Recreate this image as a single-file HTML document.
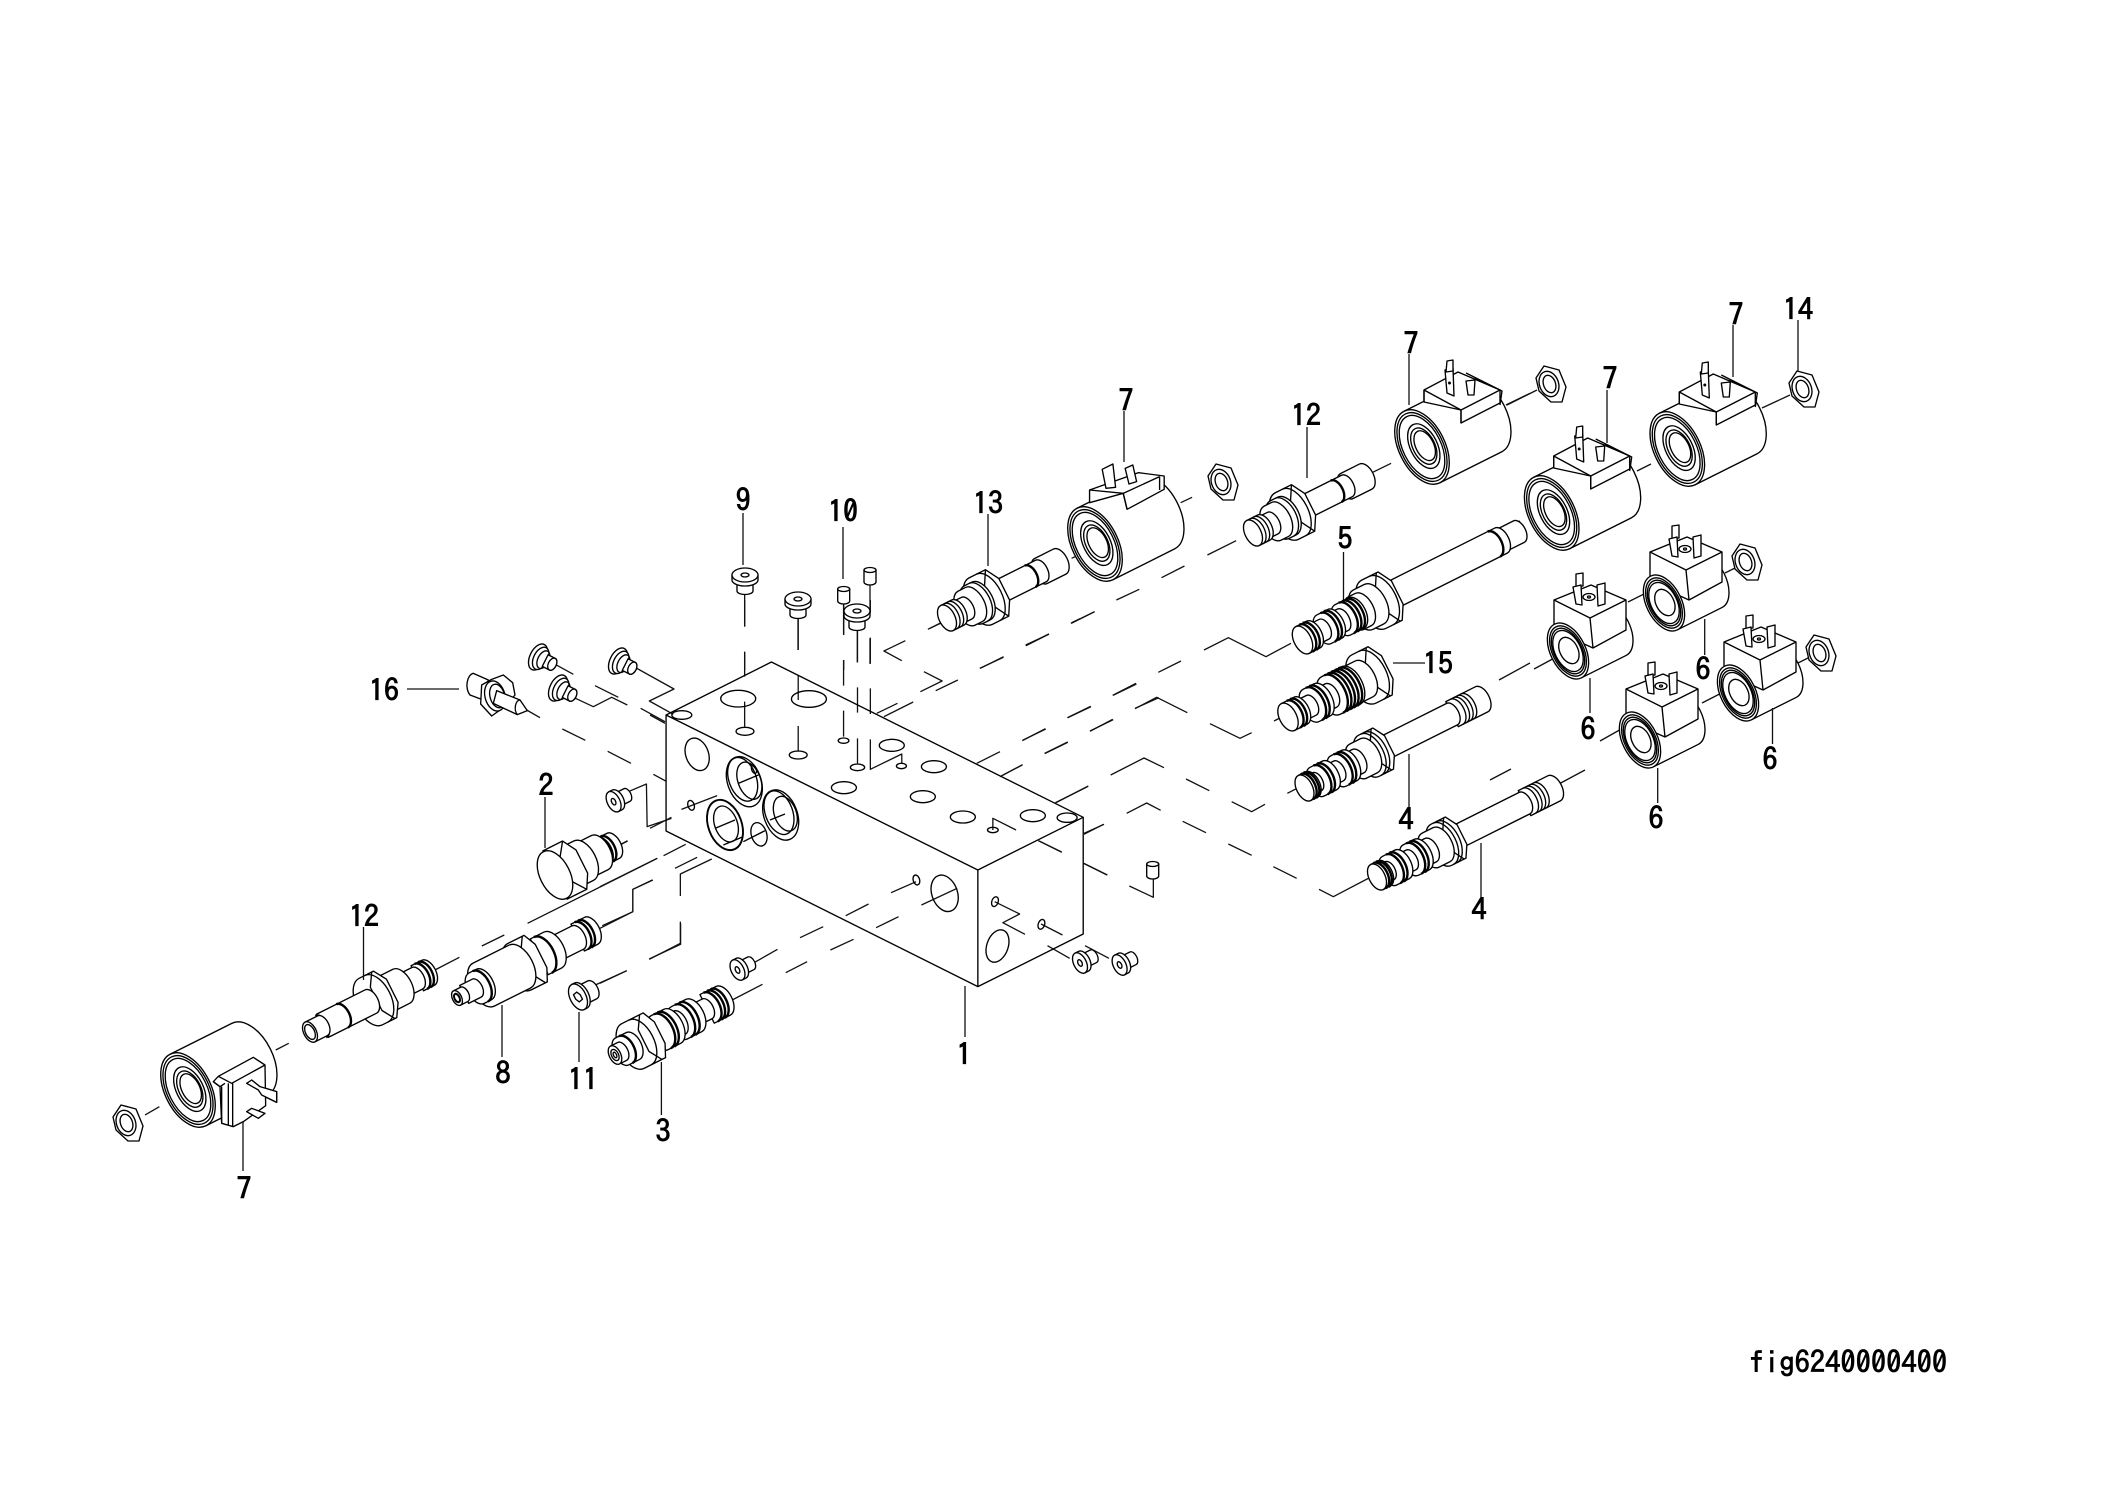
<!DOCTYPE html>
<html><head><meta charset="utf-8"><title>fig6240000400</title>
<style>
html,body{margin:0;padding:0;background:#fff}
svg{display:block}
svg *{vector-effect:non-scaling-stroke}
path,ellipse,polygon,rect{fill:#fff;stroke:#000;stroke-width:1.35;stroke-linejoin:round}
.l path,.l ellipse,path.n,ellipse.n{fill:none}
path.t{fill:none;stroke-width:2.4}
.d path{fill:none;stroke:#111;stroke-width:1.3}
text{font-family:"IPAGothic","Liberation Sans",sans-serif;font-size:30px;text-anchor:middle;fill:#000;stroke:#000;stroke-width:.9}
</style></head><body>
<svg width="2105" height="1488" viewBox="0 0 2105 1488" xmlns="http://www.w3.org/2000/svg">
<rect x="0" y="0" width="2105" height="1488" style="fill:#fff;stroke:none"/>
<defs>
<g id="coil">
<path d="M0-40H69A23 40 0 0 1 69 40H0Z"/>
<ellipse rx="23" ry="40"/><ellipse class="n" rx="21" ry="37"/><ellipse class="n" rx="19" ry="34"/>
<ellipse cx="2" rx="13.5" ry="24"/><ellipse class="n" cx="2" rx="11" ry="19.5"/><ellipse cx="3" rx="9" ry="16"/>
</g>
<g id="b7">
<polygon points="2,-57 36,-75 78,-57 78,-44 39,-24 39,-37 2,-45"/>
<path class="n" d="M2-57L39-37L78-57M2-45L2-57M39-37V-24M44-74L80-56L78-42"/>
<polygon points="23,-77 31,-79 32,-51 25,-54"/><polygon points="25,-86 31,-87 31,-76 24,-75"/>
<ellipse class="n" cx="27.5" cy="-64" rx=".8" ry=".8"/>
<polygon points="44,-66 53,-67 52,-52 46,-52"/>
</g>
<g id="c6b"><path d="M0-30H50A17 30 0 0 1 50 30H0Z"/></g>
<g id="c6f">
<ellipse rx="17.5" ry="30"/><ellipse class="n" rx="15.5" ry="27"/><ellipse class="n" rx="14" ry="24.5"/><ellipse class="n" rx="13" ry="22"/>
<ellipse cx="1" rx="9" ry="14"/>
</g>
<g id="b6">
<polygon points="-14,-51 23,-66 58,-51 58,-21 25,-3 5,-12 -14,-24"/>
<path class="n" d="M-14-51L22-33L58-51M22-33L25-3"/>
<ellipse cx="21" cy="-54" rx="6" ry="3.5"/><ellipse class="n" cx="21" cy="-54" rx="1.5" ry="1"/>
<polygon points="8,-77 15,-78 15,-65 8,-64"/>
<polygon points="5,-64 13,-66 14,-46 8,-47"/>
<polygon points="29,-66 37,-68 37,-47 30,-45"/>
</g>
<g id="nut">
<polygon points="-15,-6 -7,-18 8,-14 15,3 11,18 0,18 -12,7"/>
<ellipse cx="-2" cy="0" rx="9.5" ry="13" transform="rotate(-20 -2 0)"/>
<ellipse class="n" cx="-1.5" cy="0" rx="6" ry="9" transform="rotate(-20 -1.5 0)"/>
</g>
<g id="v12">
<path d="M105-14H126A8 14 0 0 1 126 14H105A8 14 0 0 1 105-14Z"/>
<path d="M60-12H105A6.8 12 0 0 1 105 12H60Z"/>
<path class="t" d="M93-12A6.8 12 0 0 1 93 12"/>
<path d="M38-26H56L64-12V12L56 26H38A15 26 0 0 1 38-26Z"/>
<path class="n" d="M46-26A14 26 0 0 1 46 26M56-26L48-12V12L56 26"/>
<path d="M30-21H38A12 21 0 0 1 38 21H30A12 21 0 0 1 30-21Z"/>
<path class="n" d="M35-21A12 21 0 0 1 35 21"/>
<path d="M22-19H30A10.8 19 0 0 1 30 19H22A10.8 19 0 0 1 22-19Z"/>
<path d="M12-12H22A6.8 12 0 0 1 22 12H12A6.8 12 0 0 1 12-12Z"/>
<path d="M0-14H12A8 14 0 0 1 12 14H0Z"/>
<path class="n" d="M4-14A8 14 0 0 1 4 14M8-14A8 14 0 0 1 8 14"/>
<ellipse rx="8" ry="14"/>
</g>
<g id="v12r">
<path d="M120-14H132A8 14 0 0 1 132 14H120Z"/>
<path class="t" d="M124-14A8 14 0 0 1 124 14M128-14A8 14 0 0 1 128 14"/>
<path d="M102-12H120A6.8 12 0 0 1 120 12H102Z"/>
<path d="M88-19H102A10.8 19 0 0 1 102 19H88Z"/>
<path d="M68-26H84L92-13V13L84 26H68A14.8 26 0 0 1 68-26Z"/>
<path class="n" d="M82-26L74-13V13L82 26M74-26A14.8 26 0 0 1 74 26"/>
<path d="M14-13H68A7.4 13 0 0 1 68 13H14Z"/>
<path class="t" d="M36-13A7.4 13 0 0 1 36 13M12-12A7 12 0 0 1 12 12"/>
<path d="M0-11H14A6.3 11 0 0 1 14 11H0Z"/>
<ellipse rx="6.3" ry="11"/><ellipse class="n" rx="4.5" ry="8"/>
</g>
<g id="v5">
<path d="M222-12H242A6.8 12 0 0 1 242 12H222Z"/>
<path d="M105-14H222A8 14 0 0 1 222 14H105Z"/>
<path class="t" d="M214-14A8 14 0 0 1 214 14"/>
<path d="M80-27H98L106-13V13L98 27H80A15.4 27 0 0 1 80-27Z"/>
<path class="n" d="M96-27L88-13V13L96 27M88-27A15.4 27 0 0 1 88 27"/>
<path d="M68-22H80A12.5 22 0 0 1 80 22H68A12.5 22 0 0 1 68-22Z"/>
<path d="M60-18H68A10.3 18 0 0 1 68 18H60A10.3 18 0 0 1 60-18Z"/>
<path d="M45-17H60A9.7 17 0 0 1 60 17H45A9.7 17 0 0 1 45-17Z"/>
<path class="t" d="M49-17A9.7 17 0 0 1 49 17M53-17A9.7 17 0 0 1 53 17M57-17A9.7 17 0 0 1 57 17"/>
<path d="M36-12H45A6.8 12 0 0 1 45 12H36Z"/>
<path d="M24-16H36A9.1 16 0 0 1 36 16H24A9.1 16 0 0 1 24-16Z"/>
<path class="t" d="M28-16A9.1 16 0 0 1 28 16M32-16A9.1 16 0 0 1 32 16"/>
<path d="M12-11H24A6.3 11 0 0 1 24 11H12Z"/>
<path d="M0-15H12A8.6 15 0 0 1 12 15H0Z"/>
<path class="t" d="M4-15A8.6 15 0 0 1 4 15M8-15A8.6 15 0 0 1 8 15"/>
<ellipse rx="8.6" ry="15"/>
</g>
<g id="v4">
<path d="M165-14H198A8 14 0 0 1 198 14H165Z"/>
<path class="n" d="M170-14A8 14 0 0 1 170 14M174-14A8 14 0 0 1 174 14M178-14A8 14 0 0 1 178 14M182-14A8 14 0 0 1 182 14"/>
<path d="M90-12H165A6.8 12 0 0 1 165 12H90Z"/>
<path d="M72-23H88L95-11V11L88 23H72A13 23 0 0 1 72-23Z"/>
<path class="n" d="M86-23L79-11V11L86 23M78-23A13 23 0 0 1 78 23M74-23A13 23 0 0 1 74 23"/>
<path d="M60-19H72A10.8 19 0 0 1 72 19H60A10.8 19 0 0 1 60-19Z"/>
<path d="M50-13H60A7.4 13 0 0 1 60 13H50Z"/>
<path d="M38-17H50A9.7 17 0 0 1 50 17H38A9.7 17 0 0 1 38-17Z"/>
<path class="t" d="M41-17A9.7 17 0 0 1 41 17M45-17A9.7 17 0 0 1 45 17"/>
<path d="M28-11H38A6.3 11 0 0 1 38 11H28Z"/>
<path d="M14-16H28A9.1 16 0 0 1 28 16H14A9.1 16 0 0 1 14-16Z"/>
<path class="t" d="M18-16A9.1 16 0 0 1 18 16M22-16A9.1 16 0 0 1 22 16"/>
<path d="M8-10H14A5.7 10 0 0 1 14 10H8Z"/>
<path d="M0-14H8A8 14 0 0 1 8 14H0Z"/>
<path class="t" d="M3-14A8 14 0 0 1 3 14M6-14A8 14 0 0 1 6 14"/>
<ellipse rx="8" ry="14"/>
</g>
<g id="v15">
<path d="M85-27H103L111-13V13L103 27H85A15.4 27 0 0 1 85-27Z"/>
<path class="n" d="M101-27L93-13V13L101 27M93-27A15.4 27 0 0 1 93 27"/>
<path d="M70-20H85A11.4 20 0 0 1 85 20H70A11.4 20 0 0 1 70-20Z"/>
<path d="M48-21H70A12 21 0 0 1 70 21H48A12 21 0 0 1 48-21Z"/>
<path class="t" d="M51-21A12 21 0 0 1 51 21M55-21A12 21 0 0 1 55 21M59-21A12 21 0 0 1 59 21M63-21A12 21 0 0 1 63 21M67-21A12 21 0 0 1 67 21"/>
<path d="M38-13H48A7.4 13 0 0 1 48 13H38Z"/>
<path d="M26-18H38A10.3 18 0 0 1 38 18H26A10.3 18 0 0 1 26-18Z"/>
<path class="t" d="M29-18A10.3 18 0 0 1 29 18M33-18A10.3 18 0 0 1 33 18"/>
<path d="M14-11H26A6.3 11 0 0 1 26 11H14Z"/>
<path d="M0-15H14A8.6 15 0 0 1 14 15H0Z"/>
<path class="t" d="M6-15A8.6 15 0 0 1 6 15M10-15A8.6 15 0 0 1 10 15"/>
<ellipse rx="8.6" ry="15"/>
</g>
<g id="v3">
<path d="M103-16H121A9.1 16 0 0 1 121 16H103Z"/>
<path class="t" d="M107-16A9.1 16 0 0 1 107 16M111-16A9.1 16 0 0 1 111 16M115-16A9.1 16 0 0 1 115 16"/>
<path d="M88-11H103A6.3 11 0 0 1 103 11H88Z"/>
<path d="M72-18H88A10.3 18 0 0 1 88 18H72A10.3 18 0 0 1 72-18Z"/>
<path class="t" d="M76-18A10.3 18 0 0 1 76 18M81-18A10.3 18 0 0 1 81 18"/>
<path d="M64-13H72A7.4 13 0 0 1 72 13H64Z"/>
<path d="M50-19H64A10.8 19 0 0 1 64 19H50A10.8 19 0 0 1 50-19Z"/>
<path class="t" d="M53-19A10.8 19 0 0 1 53 19M57-19A10.8 19 0 0 1 57 19"/>
<path d="M20-25H44L50-12V12L44 25H20A14 25 0 0 1 20-25Z"/>
<path class="n" d="M40-25L32-12V12L40 25M28-25A14 25 0 0 1 28 25"/>
<path d="M8-15H20A8.6 15 0 0 1 20 15H8A8.6 15 0 0 1 8-15Z"/>
<path class="t" d="M12-15A8.6 15 0 0 1 12 15"/>
<path d="M0-10H8A5.7 10 0 0 1 8 10H0Z"/>
<ellipse rx="5.7" ry="10"/><ellipse class="n" rx="3.5" ry="6"/><ellipse class="n" rx="1.5" ry="3"/>
</g>
<g id="v8">
<path d="M135-15H150A8.6 15 0 0 1 150 15H135Z"/>
<path class="t" d="M139-15A8.6 15 0 0 1 139 15M143-15A8.6 15 0 0 1 143 15"/>
<path d="M107-13H135A7.4 13 0 0 1 135 13H107Z"/>
<path d="M92-20H107A11.4 20 0 0 1 107 20H92Z"/>
<path class="t" d="M96-20A11.4 20 0 0 1 96 20"/>
<path d="M70-26H88L94-13V13L88 26H70A14.8 26 0 0 1 70-26Z"/>
<path class="n" d="M86-26L78-13V13L86 26"/>
<path d="M30-24H70A13.7 24 0 0 1 70 24H30A13.7 24 0 0 1 30-24Z"/>
<path d="M22-17H30A9.7 17 0 0 1 30 17H22A9.7 17 0 0 1 22-17Z"/>
<path class="t" d="M26-17A9.7 17 0 0 1 26 17"/>
<path d="M8-10H22A5.7 10 0 0 1 22 10H8Z"/>
<path d="M0-8H8A4.6 8 0 0 1 8 8H0Z"/>
<ellipse rx="4.6" ry="8"/><ellipse class="n" rx="2.5" ry="4.5" style="stroke-width:2"/>
</g>
<g id="v2">
<path d="M50-14H65A8 14 0 0 1 65 14H50Z"/>
<path class="t" d="M54-14A8 14 0 0 1 54 14M58-14A8 14 0 0 1 58 14"/>
<path d="M32-19H50A10.8 19 0 0 1 50 19H32Z"/>
<path d="M25-22H32A12.5 22 0 0 1 32 22H25A12.5 22 0 0 1 25-22Z"/>
<path d="M0-27H22L30-13V13L22 27H0Z"/>
<path class="n" d="M22-27L12-13V13L22 27"/>
<ellipse rx="15" ry="26"/>
</g>
<g id="v11">
<path d="M3-10H16A5.7 10 0 0 1 16 10H3Z"/>
<path d="M0-14H3A8 14 0 0 1 3 14H0Z"/>
<ellipse rx="8" ry="14"/>
<polygon points="-3,-4 1,-5 3,-1 3,4 -1,5 -3,1"/>
</g>
<g id="s">
<path d="M4-7H15A4 7 0 0 1 15 7H4Z"/>
<path d="M0-11H4A6.3 11 0 0 1 4 11H0Z"/>
<ellipse rx="6.3" ry="11"/>
<ellipse rx="2" ry="3.5"/>
</g>
<g id="p">
<ellipse rx="8" ry="14"/>
<ellipse cx="3" rx="7" ry="12"/>
<ellipse class="n" cx="6" rx="5.5" ry="9.5"/>
<path d="M8-6.5H16A4 6.5 0 0 1 16 6.5H8Z"/>
<ellipse cx="16" rx="4" ry="6.5"/>
</g>
<g id="vp">
<path d="M-8 2V14A8 3.5 0 0 0 8 14V2Z"/>
<path d="M-13-2V3A13 6 0 0 0 13 3V-2Z"/>
<ellipse cy="-2" rx="13" ry="7"/>
<ellipse cy="-2" rx="4" ry="2"/>
</g>
<g id="vs">
<path d="M-6-5V7A6 3 0 0 0 6 7V-5Z"/>
<ellipse cy="-5" rx="6" ry="2.5"/>
</g>
</defs>

<!-- dashed centre lines, zoom 1 space -->
<g class="d" transform="translate(600,600) scale(.35714,.33333)">
<path d="M405 0V80M405 155V230M405 305V380M555 50V150M555 225V300M555 378V455M682 5V103M682 180V257M682 332V410M721 90V187M721 262V338M721 415V490M757 0V38M757 113V190M757 265V342M757 418V508L845 462V490"/>
<path d="M855 122L795 153L845 182M907 215L958 243L897 275M940 272L1002 240M775 340L833 310M795 350L877 306M1065 205L1130 170M1192 137L1257 102M1320 70L1385 35M918 88L985 52"/>
<path d="M1055 490L1120 455M1183 421L1248 387M1310 353L1375 320M1437 286L1502 252M1125 527L1182 495M1245 461L1310 427M1372 393L1437 359M1498 325L1565 293"/>
<path d="M1275 608L1365 560M1355 703L1410 673M1228 722L1293 757M1355 790L1420 825M1100 690V655L1165 690"/>
<path d="M68 580L130 552L132 680L200 655M140 685L200 652M228 628L328 587"/>
<path d="M30 750L77 722M0 860L160 775M178 767L240 733M210 805L272 772M313 777L225 822V888M225 965V1030L138 1078M148 840L92 868V935L0 985M0 1150L75 1112"/>
<path d="M420 1095L497 1048M520 1118L580 1085M645 1050L710 1018M773 983L836 950M900 915L1000 865M560 1013L625 980M688 947L752 912M815 878L885 845M370 1200L455 1153"/>
<path d="M1105 905L1175 942L1128 968L1190 1003M1235 972L1295 1005M1253 1037L1315 1075M1358 1037L1425 1075"/>
</g>
<!-- dashed lines, zoom 9 space -->
<g class="d" transform="translate(440,620) scale(.33333)">
<path d="M340 130L400 163M400 232L460 260L515 232L562 255M465 197L535 232M585 142L702 207L628 243L700 283M602 265L675 305M630 285L675 310M260 270L300 293M367 327L436 361M503 394L573 430M640 463L677 483"/>
</g>
<!-- dashed lines, zoom 6 space -->
<g class="d" transform="translate(1000,620) scale(.33333)">
<path d="M78 77L147 42M215 8L240 -4M338 226L408 190M475 157L543 123M612 90L685 53L798 110L873 70"/>
<path d="M202 293L272 259M67 362L136 326M270 334L338 298M134 400L203 366M405 266L470 232L562 278M630 311L720 355L755 338M822 303L857 285"/>
<path d="M0 470L68 434M168 548L265 498M332 465L432 414L492 443M558 477L628 512M695 545L755 575L795 553M862 520L905 498"/>
<path d="M252 640L312 613M380 580L440 549L482 571M548 604L618 638M685 672L755 706M820 740L890 775M957 808L1000 830L1130 762"/>
<path d="M115 662L185 696M250 730L322 765M388 798L460 832V770"/>
</g>
<!-- dashed lines, zoom 3 space -->
<g class="d" transform="translate(930,280) scale(.38265,.33333)">
<path d="M1155 578L1205 550M370 835L465 785M655 668L685 652M1505 375L1568 340M725 825L800 782M605 893L665 858M487 960L547 928M368 1030L430 995M250 1095L310 1063M130 1165L192 1132M0 1045L45 1020"/>
</g>
<!-- dashed lines, zoom 2 space -->
<g class="d" transform="translate(90,760) scale(.40816,.33333)">
<path d="M135 1065L170 1040M455 870L487 850M845 630L905 592M960 558L1015 525M1072 490L1390 295M1275 270L1317 243M1255 497L1330 455V388L1378 360M1238 675L1315 632M1370 597L1447 553V490"/>
</g>
<!-- lines between coils, real coordinates -->
<g class="d">
<path d="M1507 528L1520 521M1546 515L1558 509M1637 471L1651 464M1762 408L1790 395M1507 405L1537 390"/>
<path d="M1534 669L1560 655M1628 602L1670 581M1725 573L1735 568M1499 680L1530 663M1600 741L1632 723M1702 703L1745 681M1798 663L1810 657"/>
<path d="M1511 769L1490 780M1585 770L1557 785"/>
</g>
<!-- vertical plug lines, zoom 10 space -->
<g class="d" transform="translate(710,490) scale(.33333)">
<path d="M104 310V410M104 487V540M264 380V480M401 335V435M401 510V540M442 418V517M480 280V368M480 445V522"/>
</g>

<!-- manifold block, zoom 1 space -->
<g class="l" transform="translate(600,600) scale(.35714,.33333)">
<path d="M185 345L480 186L1353 652L1058 810ZM185 345V693L1058 1160V810M1058 1160L1353 1002V652"/>
<ellipse cx="229" cy="345" rx="28" ry="13"/><ellipse cx="387" cy="296" rx="49" ry="25"/><ellipse cx="585" cy="297" rx="49" ry="25"/>
<ellipse cx="406" cy="394" rx="25" ry="12"/><ellipse cx="555" cy="465" rx="25" ry="12"/><ellipse cx="682" cy="422" rx="15" ry="8"/>
<ellipse cx="817" cy="436" rx="35" ry="18"/><ellipse cx="721" cy="502" rx="20" ry="10"/><ellipse cx="844" cy="498" rx="14" ry="8"/>
<ellipse cx="935" cy="500" rx="35" ry="18"/><ellipse cx="683" cy="563" rx="35" ry="18"/><ellipse cx="904" cy="590" rx="35" ry="18"/>
<ellipse cx="1016" cy="651" rx="35" ry="18"/><ellipse cx="1100" cy="690" rx="15" ry="8"/><ellipse cx="1212" cy="647" rx="35" ry="18"/><ellipse cx="1308" cy="653" rx="28" ry="14"/>
<ellipse cx="272" cy="463" rx="32" ry="50" transform="rotate(-17 272 463)"/>
<ellipse cx="255" cy="616" rx="9" ry="15" transform="rotate(-15 255 616)"/><ellipse cx="886" cy="840" rx="9" ry="15" transform="rotate(-15 886 840)"/>
<ellipse cx="965" cy="880" rx="36" ry="56" transform="rotate(-17 965 880)"/>
<ellipse cx="1113" cy="1038" rx="30" ry="50" transform="rotate(17 1113 1038)"/>
<ellipse cx="1106" cy="905" rx="9" ry="15" transform="rotate(17 1106 905)"/><ellipse cx="1236" cy="973" rx="9" ry="15" transform="rotate(17 1236 973)"/>
</g>
<!-- ports -->
<g class="l" transform="translate(690,740) scale(.33333)">
<ellipse cx="163" cy="125" rx="50" ry="78" transform="rotate(-20 163 125)"/>
<ellipse cx="158" cy="118" rx="41" ry="68" transform="rotate(-20 158 118)"/>
<ellipse cx="178" cy="122" rx="34" ry="58" transform="rotate(-20 178 122)"/>
<ellipse cx="192" cy="88" rx="7" ry="13" transform="rotate(-20 192 88)"/>
<path d="M145 130L205 105"/>
<ellipse cx="105" cy="255" rx="50" ry="78" transform="rotate(-20 105 255)" style="stroke-width:1.9"/>
<ellipse cx="108" cy="252" rx="34" ry="56" transform="rotate(-20 108 252)"/>
<path d="M75 265L135 240M100 315L160 290"/>
<ellipse cx="272" cy="225" rx="50" ry="78" transform="rotate(-20 272 225)"/>
<ellipse cx="267" cy="218" rx="41" ry="68" transform="rotate(-20 267 218)"/>
<ellipse cx="286" cy="221" rx="33" ry="54" transform="rotate(-20 286 221)"/>
<path d="M240 240L285 222"/>
<ellipse cx="207" cy="283" rx="23" ry="36" transform="rotate(-17 207 283)"/>
<path d="M160 305L225 272"/>
</g>

<!-- cartridge valves -->
<use href="#v12" transform="translate(947,618) rotate(-26.6)"/>
<use href="#v12" transform="translate(1253,533) rotate(-26.6)"/>
<use href="#v12r" transform="translate(310,1032) rotate(-26.6)"/>
<use href="#v5" transform="translate(1302.5,640) rotate(-26.6)"/>
<use href="#v15" transform="translate(1288,717) rotate(-26.6)"/>
<use href="#v4" transform="translate(1304.5,788) rotate(-26.6)"/>
<use href="#v4" transform="translate(1377,877) rotate(-26.6)"/>
<use href="#v3" transform="translate(615,1055) rotate(-26.6)"/>
<use href="#v8" transform="translate(457,998) rotate(-26.6)"/>
<use href="#v2" transform="translate(555,875) rotate(-26.6)"/>
<use href="#v11" transform="translate(578,997) rotate(-26.6)"/>

<!-- small plugs -->
<use href="#s" transform="translate(613.6,801.7) rotate(-26.6)"/>
<use href="#s" transform="translate(737.5,970) rotate(-26.6)"/>
<use href="#s" transform="translate(1080,963) rotate(-26.6)"/>
<use href="#s" transform="translate(1119.6,965) rotate(-26.6)"/>
<use href="#p" transform="translate(538,657) rotate(26.6)"/>
<use href="#p" transform="translate(558,688) rotate(26.6)"/>
<use href="#p" transform="translate(618,661) rotate(26.6)"/>
<use href="#vp" transform="translate(745,577)"/>
<use href="#vp" transform="translate(798,601)"/>
<use href="#vp" transform="translate(857,613)"/>
<use href="#vs" transform="translate(843.7,594)"/>
<use href="#vs" transform="translate(870,575)"/>
<use href="#vs" transform="translate(1152.7,869)"/>

<!-- stud 16, zoom 9 space -->
<g transform="translate(440,620) scale(.33333)">
<path d="M100 160L145 180L130 240L90 225A22 36 0 0 1 100 160Z"/>
<polygon points="125,195 155,178 190,165 218,188 225,225 197,258 155,288 122,252"/>
<ellipse cx="165" cy="228" rx="30" ry="46" transform="rotate(-15 165 228)"/>
<ellipse cx="172" cy="228" rx="22" ry="36" transform="rotate(-15 172 228)"/>
<polygon points="170,212 240,240 262,272 232,284 160,250"/>
<path class="n" d="M240 240A14 24 0 0 0 232 284"/>
</g>

<!-- coils -->
<use href="#coil" transform="translate(1095,544) rotate(-26.6)"/>
<g transform="translate(930,280) scale(.38265,.33333)">
<polygon points="417,630 545,578 612,588 612,628 515,688 505,640 417,668"/>
<path class="n" d="M417 630L505 640L600 590M505 640L515 688M600 590L600 630"/>
<polygon points="450,568 478,552 485,622 460,625"/>
<polygon points="510,565 530,555 540,605 520,612"/>
</g>
<use href="#coil" transform="translate(1422,447) rotate(-26.6)"/><use href="#b7" transform="translate(1422,447)"/>
<use href="#coil" transform="translate(1551.7,513) rotate(-26.6)"/><use href="#b7" transform="translate(1551.7,513)"/>
<use href="#coil" transform="translate(1677.3,449) rotate(-26.6)"/><use href="#b7" transform="translate(1677.3,449)"/>
<use href="#coil" transform="translate(188,1090) rotate(-26.6)"/>
<g transform="translate(150,1015) scale(.33333)">
<polygon points="290,205 305,195 330,215 380,230 380,262 335,240 325,225"/>
<polygon points="190,200 205,184 310,127 345,150 347,272 280,320 250,335 215,325 210,215"/>
<path class="n" d="M205 184L245 205L345 150M190 200L210 215L225 205M215 215V325M235 205V330M248 205V335"/>
<polygon points="290,205 305,195 330,215 380,230 380,262 335,240 325,225"/>
<polygon points="290,290 305,280 345,295 325,310"/>
</g>
<use href="#c6b" transform="translate(1568,651) rotate(-26.6)"/><use href="#b6" transform="translate(1568,651)"/><use href="#c6f" transform="translate(1568,651) rotate(-26.6)"/>
<use href="#c6b" transform="translate(1664,603) rotate(-26.6)"/><use href="#b6" transform="translate(1664,603)"/><use href="#c6f" transform="translate(1664,603) rotate(-26.6)"/>
<use href="#c6b" transform="translate(1640,740) rotate(-26.6)"/><use href="#b6" transform="translate(1640,740)"/><use href="#c6f" transform="translate(1640,740) rotate(-26.6)"/>
<use href="#c6b" transform="translate(1738,693) rotate(-26.6)"/><use href="#b6" transform="translate(1738,693)"/><use href="#c6f" transform="translate(1738,693) rotate(-26.6)"/>

<!-- nuts -->
<use href="#nut" transform="translate(1804,389)"/>
<use href="#nut" transform="translate(1551,384)"/>
<use href="#nut" transform="translate(1747,562)"/>
<use href="#nut" transform="translate(1821,653)"/>
<use href="#nut" transform="translate(1223,482)"/>
<use href="#nut" transform="translate(128,1123)"/>

<!-- leaders -->
<g class="d">
<path d="M965 986V1037M545 797V848M661.4 1062V1115M1409 754V807M1481 843V897M1343.5 552V600"/>
<path d="M1590 678V713M1704.7 619V655M1657.7 768V803M1772.5 708V744"/>
<path d="M1124 411V462M1409 354V405M1607 390V443M1733 325V377M243 1122V1171"/>
<path d="M502 1005V1057M579 1012V1062M363.5 927V980M1307 427V478M988 514V566M1798 320V372"/>
<path d="M1393 663H1425M407 689H459M743 513V565M843 527V579"/>
</g>

<!-- labels -->
<text x="964" y="1065">1</text>
<text x="546" y="796">2</text>
<text x="663" y="1142">3</text>
<text x="1406" y="830">4</text>
<text x="1479" y="920">4</text>
<text x="1345" y="549">5</text>
<text x="1588" y="740">6</text>
<text x="1703" y="680">6</text>
<text x="1656" y="829">6</text>
<text x="1770" y="770">6</text>
<text x="1126" y="411">7</text>
<text x="1411" y="354">7</text>
<text x="1610" y="389">7</text>
<text x="1736" y="325">7</text>
<text x="244" y="1199">7</text>
<text x="503" y="1084">8</text>
<text x="743" y="511">9</text>
<text x="843" y="522">10</text>
<text x="583" y="1090">11</text>
<text x="364" y="927">12</text>
<text x="1306" y="426">12</text>
<text x="988" y="514">13</text>
<text x="1798" y="320">14</text>
<text x="1438" y="674">15</text>
<text x="384" y="701">16</text>
<text x="1848" y="1373" style="font-size:30.5px;stroke-width:.8">fig6240000400</text>
</svg>
</body></html>
